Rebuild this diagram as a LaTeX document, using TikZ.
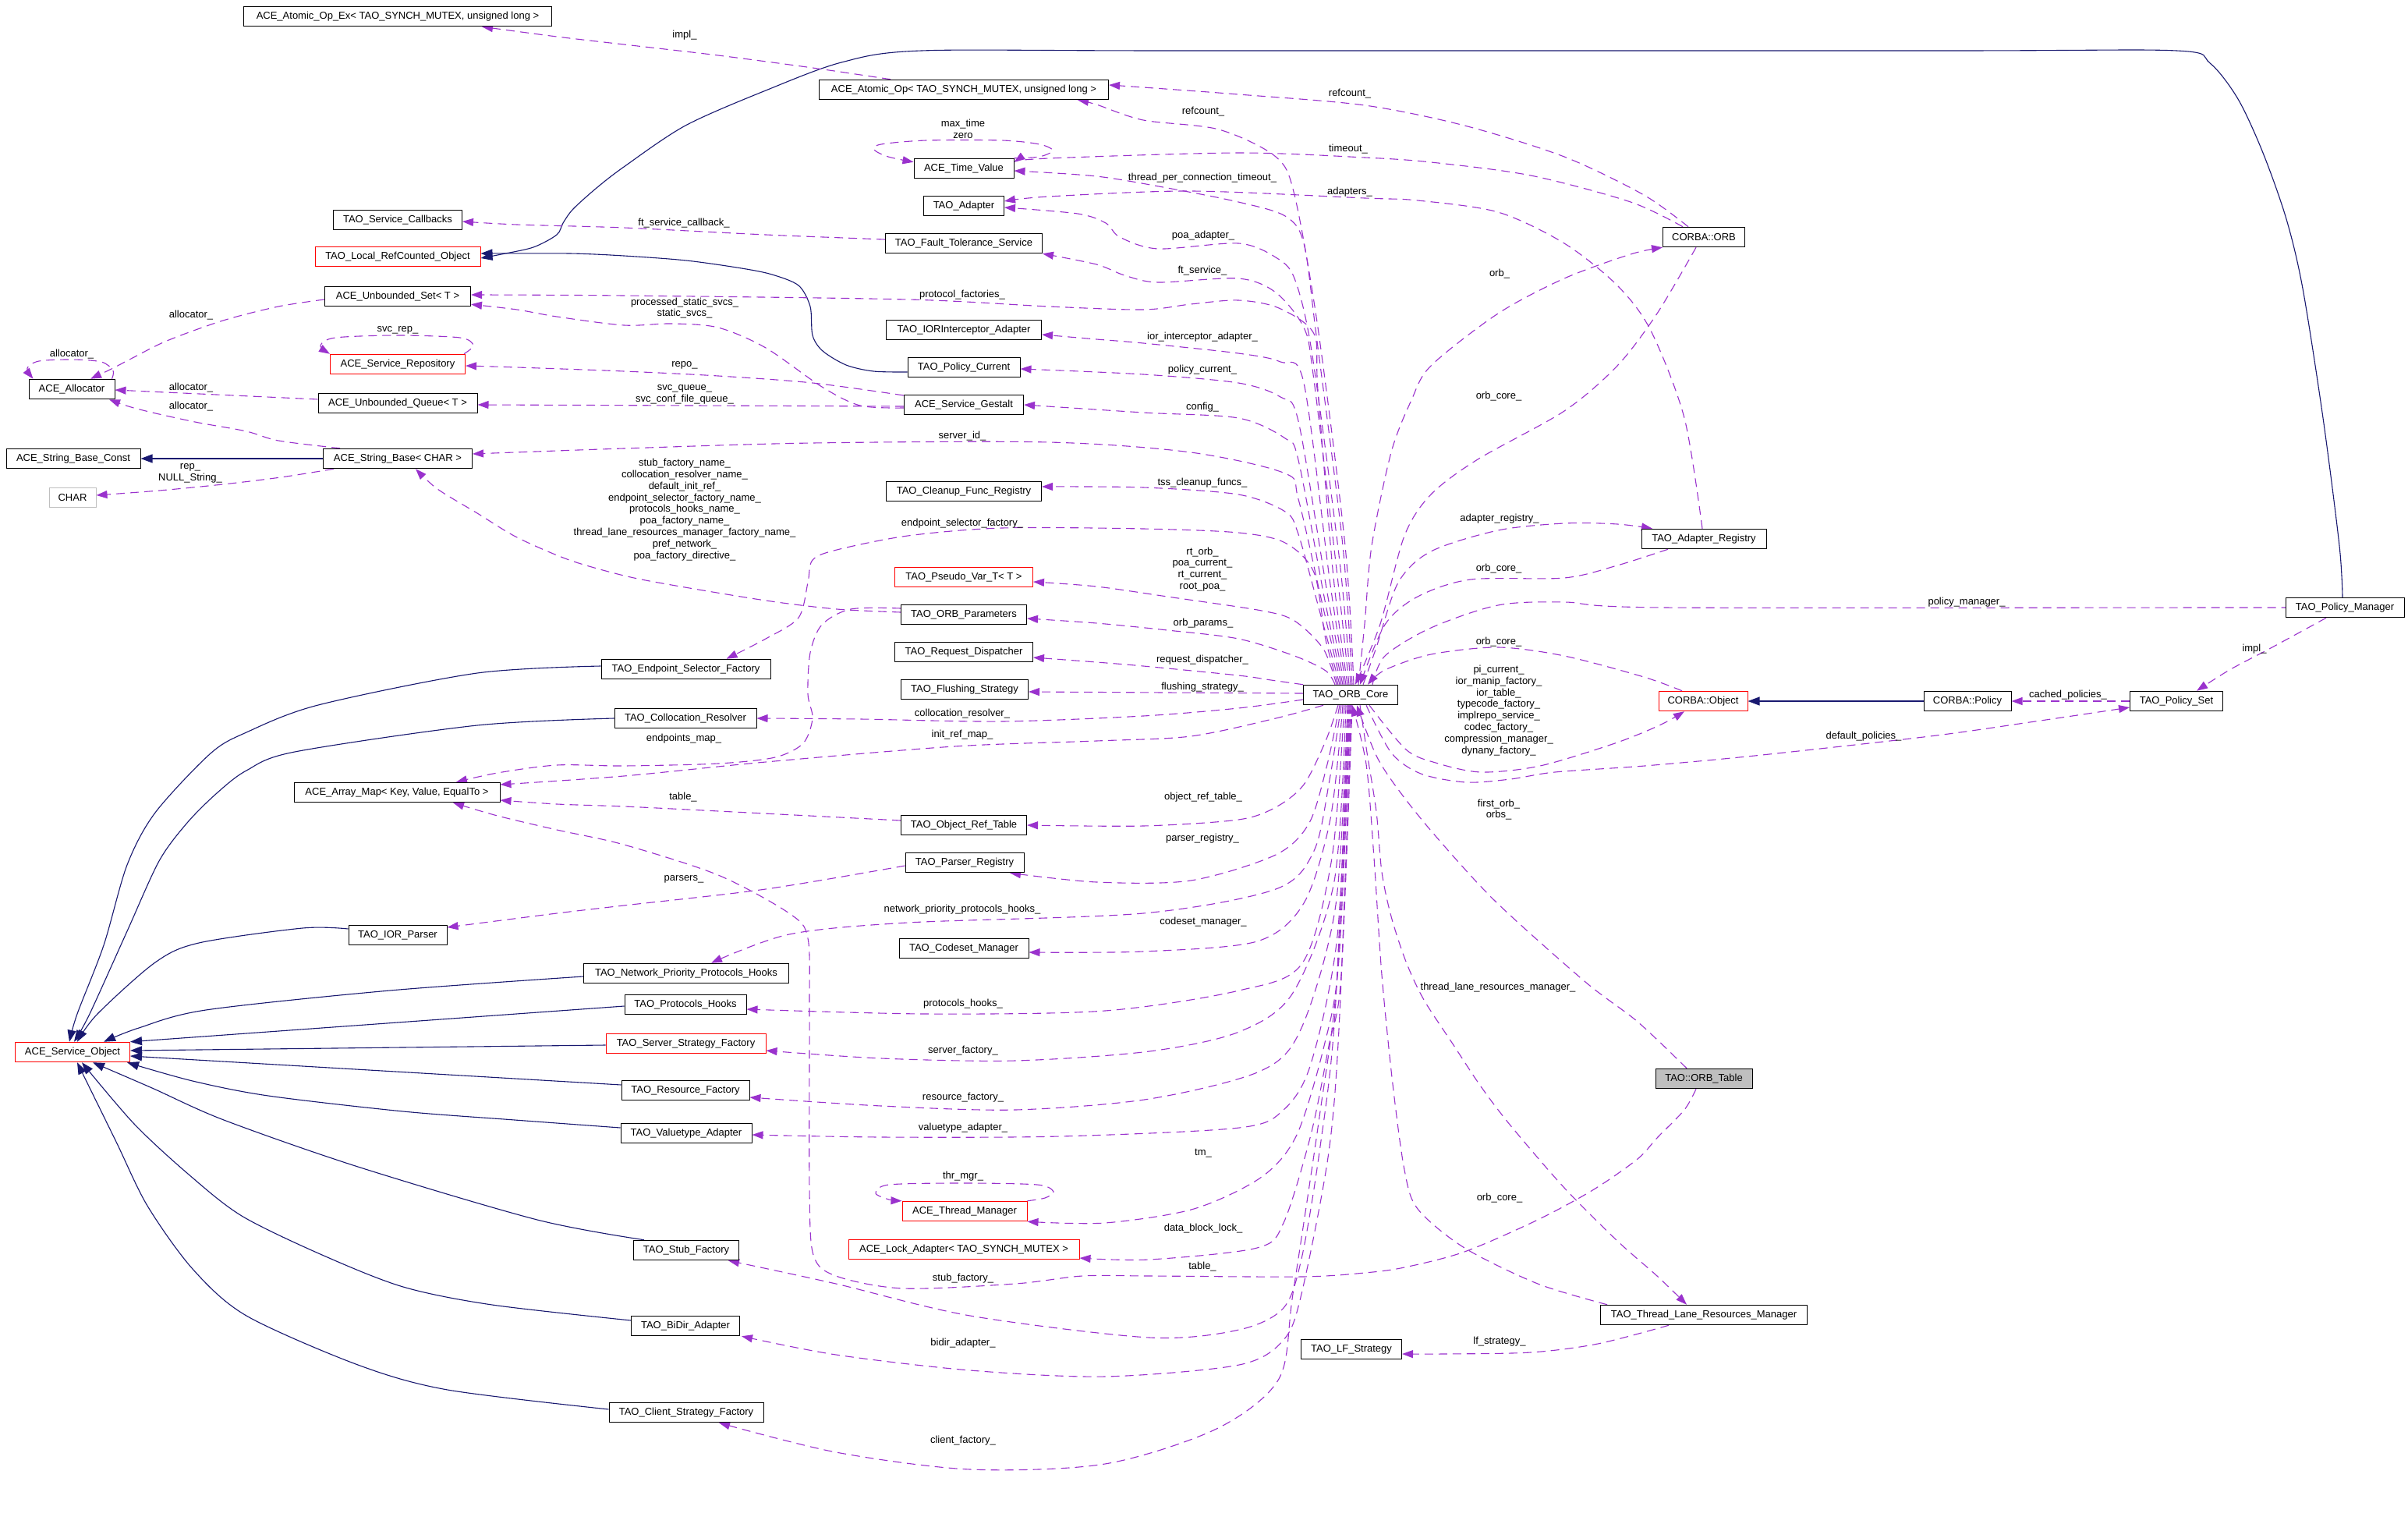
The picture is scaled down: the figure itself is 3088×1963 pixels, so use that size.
\documentclass[tikz,border=0pt]{standalone}
\usepackage{fontspec}
\setmainfont{Liberation Sans}
\usetikzlibrary{arrows.meta}
\definecolor{edgeP}{HTML}{9A32CD}
\definecolor{edgeB}{HTML}{191970}
\definecolor{grayB}{HTML}{BFBFBF}
\pgfdeclarelayer{bg}
\pgfsetlayers{bg,main}
\begin{document}
\begin{tikzpicture}[x=0.5pt,y=-0.5pt,
  box/.style={draw=black, fill=white, line width=0.5pt, minimum height=12.75pt, inner sep=0pt, font=\fontsize{6.5}{7.4}\selectfont},
  rbox/.style={box, draw=red},
  gbox/.style={box, draw=grayB},
  bw/.style={minimum width=#1*0.5pt},
  lbl/.style={inner sep=0pt, align=center, font=\fontsize{6.5}{7.4}\selectfont},
  uedge/.style={draw=edgeP, line width=0.55pt, dash pattern=on 5.5pt off 3.5pt, -{Triangle[length=7pt,width=5pt]}},
  iedge/.style={draw=edgeB, line width=0.55pt, -{Triangle[length=7.5pt,width=5.5pt]}}]
\useasboundingbox (0,0) rectangle (3088,1963);
% ---------------- nodes
\node[box,bw=395] (atomicex) at (510,21) {ACE\_Atomic\_Op\_Ex< TAO\_SYNCH\_MUTEX, unsigned long >};
\node[box,bw=371] (atomicop) at (1236,115) {ACE\_Atomic\_Op< TAO\_SYNCH\_MUTEX, unsigned long >};
\node[box,bw=128] (timevalue) at (1236,216) {ACE\_Time\_Value};
\node[box,bw=103] (adapter) at (1236,264) {TAO\_Adapter};
\node[box,bw=165] (svccallbacks) at (510,282) {TAO\_Service\_Callbacks};
\node[box,bw=201] (fts) at (1236,312) {TAO\_Fault\_Tolerance\_Service};
\node[rbox,bw=212] (localref) at (510,329) {TAO\_Local\_RefCounted\_Object};
\node[box,bw=187] (unbset) at (510,380) {ACE\_Unbounded\_Set< T >};
\node[box,bw=199] (iorint) at (1236,423) {TAO\_IORInterceptor\_Adapter};
\node[rbox,bw=173] (svcrepo) at (510,467) {ACE\_Service\_Repository};
\node[box,bw=144] (policycurrent) at (1236,471) {TAO\_Policy\_Current};
\node[box,bw=110] (allocator) at (92,499) {ACE\_Allocator};
\node[box,bw=204] (unbqueue) at (510,517) {ACE\_Unbounded\_Queue< T >};
\node[box,bw=153] (gestalt) at (1236,519) {ACE\_Service\_Gestalt};
\node[box,bw=172] (stringconst) at (94,588) {ACE\_String\_Base\_Const};
\node[box,bw=191] (stringbase) at (510,588) {ACE\_String\_Base< CHAR >};
\node[box,bw=199] (cleanup) at (1236,630) {TAO\_Cleanup\_Func\_Registry};
\node[gbox,bw=60] (charn) at (93,638) {CHAR};
\node[rbox,bw=177] (pseudovar) at (1236,740) {TAO\_Pseudo\_Var\_T< T >};
\node[box,bw=161] (orbparams) at (1236,788) {TAO\_ORB\_Parameters};
\node[box,bw=177] (reqdisp) at (1236,836) {TAO\_Request\_Dispatcher};
\node[box,bw=217] (endpointsel) at (879.5,858) {TAO\_Endpoint\_Selector\_Factory};
\node[box,bw=163] (flushing) at (1237,884) {TAO\_Flushing\_Strategy};
\node[box,bw=121] (orbcore) at (1732,891) {TAO\_ORB\_Core};
\node[box,bw=182] (colloc) at (879,921) {TAO\_Collocation\_Resolver};
\node[box,bw=264] (arraymap) at (509,1016) {ACE\_Array\_Map< Key, Value, EqualTo >};
\node[box,bw=161] (objreftable) at (1236,1058) {TAO\_Object\_Ref\_Table};
\node[box,bw=152] (parserreg) at (1237,1106) {TAO\_Parser\_Registry};
\node[box,bw=126] (iorparser) at (510,1199) {TAO\_IOR\_Parser};
\node[box,bw=166] (codeset) at (1236,1216) {TAO\_Codeset\_Manager};
\node[box,bw=263] (npph) at (880,1248) {TAO\_Network\_Priority\_Protocols\_Hooks};
\node[box,bw=156] (protohooks) at (879,1288) {TAO\_Protocols\_Hooks};
\node[rbox,bw=205] (serverstrat) at (879.5,1338) {TAO\_Server\_Strategy\_Factory};
\node[rbox,bw=147] (svcobject) at (93,1349) {ACE\_Service\_Object};
\node[box,bw=164] (resfactory) at (879,1398) {TAO\_Resource\_Factory};
\node[box,bw=168] (valuetype) at (880,1453) {TAO\_Valuetype\_Adapter};
\node[rbox,bw=160] (threadmgr) at (1237,1553) {ACE\_Thread\_Manager};
\node[rbox,bw=296] (lockadapter) at (1236,1602) {ACE\_Lock\_Adapter< TAO\_SYNCH\_MUTEX >};
\node[box,bw=135] (stubfactory) at (880,1603) {TAO\_Stub\_Factory};
\node[box,bw=139] (bidir) at (879,1700) {TAO\_BiDir\_Adapter};
\node[box,bw=129] (lfstrategy) at (1733,1730) {TAO\_LF\_Strategy};
\node[box,bw=198] (clientstrat) at (880,1811) {TAO\_Client\_Strategy\_Factory};
\node[box,bw=105] (corbaorb) at (2185,304) {CORBA::ORB};
\node[box,bw=160] (adapterreg) at (2185,691) {TAO\_Adapter\_Registry};
\node[box,bw=152] (policymgr) at (3007,779) {TAO\_Policy\_Manager};
\node[rbox,bw=114] (corbaobject) at (2184,899) {CORBA::Object};
\node[box,bw=112] (corbapolicy) at (2523,899) {CORBA::Policy};
\node[box,bw=119] (policyset) at (2791,899) {TAO\_Policy\_Set};
\node[box,fill=grayB,bw=124] (orbtable) at (2185,1383) {TAO::ORB\_Table};
\node[box,bw=265] (tlrm) at (2185,1686) {TAO\_Thread\_Lane\_Resources\_Manager};
% ---------------- edges
\begin{pgfonlayer}{bg}
\fill[white] (0,0) rectangle (3088,1963);
% inheritance
\draw[iedge] plot[smooth,tension=0.5] coordinates {([xshift=-1.5pt]policymgr.north) (3000,700) (2979,536) (2953,370) (2932,281) (2902,196) (2870,127) (2834,81) (2791,65) (2500,65) (1500,65) (1182,65) (1079,80) (982,116) (879,161) (800,214) (765,241) (735,268) (722,286) (714,301) (684,317) (643,326) ([yshift=-1pt]localref.east)};
\draw[iedge] plot[smooth,tension=0.5] coordinates {([yshift=-3pt]policycurrent.west) (1120,476) (1085,468) (1055,450) (1042,430) (1039,393) (1024,366) (990,352) (951,344) (880,334) (800,328) (730,325) ([yshift=2pt]localref.east)};
\draw[iedge] (corbapolicy) -- (corbaobject);
\draw[iedge] (stringbase) -- (stringconst);
\draw[iedge] plot[smooth,tension=0.5] coordinates {([yshift=2pt]endpointsel.west) (612,863) (408,904) (316,939) (270,966) (199,1042) (163,1109) (133,1212) (99,1300) ([xshift=-2pt]svcobject.north)};
\draw[iedge] plot[smooth,tension=0.5] coordinates {(colloc.west) (612,930) (378,964) (316,988) (278,1017) (240,1055) (204,1104) (163,1194) (115,1300) ([xshift=1pt]svcobject.north)};
\draw[iedge] plot[smooth,tension=0.5] coordinates {([yshift=4pt]iorparser.west) (388,1190) (255,1209) (199,1234) (125,1300) ([xshift=3pt]svcobject.north)};
\draw[iedge] plot[smooth,tension=0.5] coordinates {([yshift=-2pt]npph.west) (500,1270) (264,1295) (178,1318) ([xshift=20pt]svcobject.north)};
\draw[iedge] ([yshift=-1pt]protohooks.west) -- (svcobject.north east);
\draw[iedge] ([yshift=-1pt]serverstrat.west) -- ([yshift=1pt]svcobject.east);
\draw[iedge] ([yshift=3.5pt]resfactory.west) -- ([yshift=-2.5pt]svcobject.east);
\draw[iedge] plot[smooth,tension=0.5] coordinates {([yshift=3.5pt]valuetype.west) (660,1436) (517,1425) (344,1405) (247,1386) ([xshift=-2pt]svcobject.south east)};
\draw[iedge] plot[smooth,tension=0.5] coordinates {([xshift=-27pt]stubfactory.north) (689,1564) (459,1496) (287,1436) (195,1395) ([xshift=13pt]svcobject.south)};
\draw[iedge] plot[smooth,tension=0.5] coordinates {([yshift=3.5pt]bidir.west) (631,1673) (517,1650) (413,1609) (310,1559) (241,1505) (172,1441) ([xshift=6pt]svcobject.south)};
\draw[iedge] plot[smooth,tension=0.5] coordinates {([yshift=2pt]clientstrat.west) (574,1782) (459,1750) (316,1687) (247,1627) (189,1546) (149,1464) ([xshift=3pt]svcobject.south)};
% usage
\draw[uedge] plot[smooth,tension=0.5] coordinates {([xshift=-47pt]atomicop.north) (1042,87) (921,71) (800,57) (714,47) ([xshift=54pt]atomicex.south)};
\draw[uedge] plot[smooth,tension=0.5] coordinates {([xshift=-10pt]corbaorb.north) (2108,250) (2006,201) (1878,161) (1750,135) (1588,121) (1466,112) ([yshift=3pt]atomicop.east)};
\draw[uedge] plot[smooth,tension=0.5] coordinates {([xshift=2pt]orbcore.north) (1725,700) (1690,420) (1660,250) (1636,201) (1563,166) (1466,154) (1406,134) ([xshift=73pt]atomicop.south)};
\draw[uedge] plot[smooth,tension=0.5] coordinates {([xshift=-13.5pt]corbaorb.north) (2091,259) (1963,225) (1835,208) (1750,202) (1588,196) (1345,203) ([yshift=4pt]timevalue.east)};
\draw[uedge] plot[smooth,tension=0.5] coordinates {(timevalue.north east) (1333,201) (1350,193) (1333,185) (1285,180) (1188,180) (1130,185) (1121,192) (1139,201) ([yshift=-2.5pt]timevalue.north west)};
\draw[uedge] plot[smooth,tension=0.5] coordinates {([xshift=1pt]orbcore.north) (1722,700) (1688,430) (1672,312) (1648,277) (1588,259) (1497,241) (1406,226) ([yshift=-1.5pt]timevalue.east)};
\draw[uedge] plot[smooth,tension=0.5] coordinates {([xshift=-1pt]adapterreg.north) (2160,536) (2117,424) (2074,366) (2006,312) (1921,272) (1818,257) (1750,254) (1527,245) (1345,252) ([yshift=3pt]adapter.east)};
\draw[uedge] plot[smooth,tension=0.5] coordinates {(orbcore.north) (1718,720) (1682,450) (1660,357) (1636,330) (1588,312) (1485,319) (1436,304) (1418,286) (1382,274) ([yshift=-1pt]adapter.east)};
\draw[uedge] plot[smooth,tension=0.5] coordinates {([yshift=2.5pt]fts.west) (982,301) (800,292) (663,288) ([yshift=-1pt]svccallbacks.east)};
\draw[uedge] plot[smooth,tension=0.5] coordinates {([xshift=-1pt]orbcore.north) (1714,730) (1684,480) (1672,420) (1636,375) (1588,357) (1485,362) (1442,353) (1406,339) (fts.south east)};
\draw[uedge] plot[smooth,tension=0.5] coordinates {([xshift=-2pt]orbcore.north) (1710,740) (1690,500) (1685,428) (1640,395) (1588,385) (1527,390) (1466,397) (1345,393) (1164,384) (800,379) ([yshift=1pt]unbset.east)};
\draw[uedge] plot[smooth,tension=0.5] coordinates {([yshift=-2pt]gestalt.west) (1103,520) (1054,496) (982,446) (921,420) (861,415) (800,417) (714,406) (663,397) ([yshift=1.5pt]unbset.south east)};
\draw[uedge] plot[smooth,tension=0.5] coordinates {([xshift=-3pt]orbcore.north) (1706,750) (1672,491) (1642,464) (1588,453) (1466,440) (1406,435) ([yshift=-3pt]iorint.east)};
\draw[uedge] plot[smooth,tension=0.5] coordinates {([xshift=-4pt]orbcore.north) (1702,760) (1665,540) (1642,509) (1588,491) (1466,480) ([yshift=-1pt]policycurrent.east)};
\draw[uedge] plot[smooth,tension=0.5] coordinates {([xshift=-5pt]orbcore.north) (1699,770) (1665,590) (1648,562) (1588,536) (1466,529) (gestalt.east)};
\draw[uedge] plot[smooth,tension=0.5] coordinates {([yshift=6pt]gestalt.west) (1042,491) (921,482) (800,476) (663,471) ([yshift=-1pt]svcrepo.east)};
\draw[uedge] ([yshift=-1pt]gestalt.west) -- ([yshift=-1pt]unbqueue.east);
\draw[uedge] plot[smooth,tension=0.5] coordinates {([xshift=-1pt]svcrepo.north east) (607,443) (590,433) (510,430) (430,433) (411,443) (svcrepo.north west)};
\draw[uedge] plot[smooth,tension=0.5] coordinates {([yshift=-2pt]unbset.west) (357,393) (286,411) (214,437) (168,460) (143,473) ([xshift=12pt]allocator.north)};
\draw[uedge] plot[smooth,tension=0.5] coordinates {([xshift=-2pt]allocator.north east) (145,475) (130,464) (92,461) (50,463) (35,472) ([xshift=3pt]allocator.north west)};
\draw[uedge] ([yshift=2.5pt]unbqueue.west) -- ([yshift=-0.5pt]allocator.east);
\draw[uedge] plot[smooth,tension=0.5] coordinates {([xshift=-37pt]stringbase.north) (357,565) (316,553) (255,542) (204,531) (168,522) ([xshift=24pt]allocator.south)};
\draw[uedge] plot[smooth,tension=0.5] coordinates {([xshift=-41pt]stringbase.south) (360,612) (286,621) (204,629) ([yshift=1.5pt]charn.east)};
\draw[uedge] plot[smooth,tension=0.5] coordinates {([xshift=-6pt]orbcore.north) (1697,780) (1665,640) (1648,607) (1527,580) (1345,567) (1042,568) (800,575) ([yshift=3pt]stringbase.east)};
\draw[uedge] plot[smooth,tension=0.5] coordinates {([yshift=1.5pt]orbparams.west) (1073,781) (982,770) (861,750) (800,738) (730,718) (663,689) (612,658) (561,627) ([xshift=11.5pt]stringbase.south)};
\draw[uedge] plot[smooth,tension=0.5] coordinates {([xshift=-7pt]orbcore.north) (1694,790) (1665,685) (1648,656) (1588,634) (1466,625) ([yshift=3pt]cleanup.east)};
\draw[uedge] plot[smooth,tension=0.5] coordinates {([xshift=-8pt]orbcore.north) (1700,820) (1685,734) (1648,696) (1588,683) (1466,678) (1285,677) (1164,687) (1073,705) (1042,718) (1036,747) (1024,792) (982,819) ([xshift=26pt]endpointsel.north)};
\draw[uedge] plot[smooth,tension=0.5] coordinates {([xshift=-9pt]orbcore.north) (1697,832) (1660,796) (1618,783) (1497,765) (1406,752) ([yshift=-3pt]pseudovar.east)};
\draw[uedge] plot[smooth,tension=0.5] coordinates {([xshift=-10pt]orbcore.north) (1700,860) (1660,841) (1588,819) (1497,808) (1406,799) ([yshift=-2.5pt]orbparams.east)};
\draw[uedge] plot[smooth,tension=0.5] coordinates {(orbcore.north west) (1630,872) (1588,866) (1466,854) (1406,849) ([yshift=-3.5pt]reqdisp.east)};
\draw[uedge] ([yshift=1pt]orbcore.west) -- ([yshift=-1.5pt]flushing.east);
\draw[uedge] plot[smooth,tension=0.5] coordinates {([yshift=-3pt]orbcore.west) (1588,908) (1466,918) (1285,925) (1103,922) (colloc.east)};
\draw[uedge] plot[smooth,tension=0.5] coordinates {([xshift=-17.5pt]orbcore.south) (1636,921) (1527,944) (1406,950) (1224,957) (982,977) (800,995) ([yshift=5pt]arraymap.east)};
\draw[uedge] plot[smooth,tension=0.5] coordinates {([yshift=4pt]orbparams.west) (1091,781) (1054,801) (1039,837) (1036,890) (1042,921) (1030,953) (994,971) (921,979) (800,982) (714,981) (638,991) ([xshift=38pt]arraymap.north)};
\draw[uedge] plot[smooth,tension=0.5] coordinates {([yshift=3pt]objreftable.west) (921,1040) (800,1034) (714,1031) ([yshift=-5pt]arraymap.east)};
\draw[uedge] plot[smooth,tension=0.5] coordinates {([xshift=-5pt]orbtable.south) (2160,1423) (2125,1459) (2100,1486) (2044,1525) (1972,1564) (1878,1605) (1801,1625) (1750,1632) (1669,1637) (1474,1636) (1388,1636) (1302,1646) (1158,1652) (1072,1636) (1043,1609) (1038,1523) (1038,1300) (1036,1203) (1012,1171) (921,1122) (800,1083) (714,1064) (638,1046) ([xshift=36pt]arraymap.south)};
\draw[uedge] plot[smooth,tension=0.5] coordinates {([xshift=-8pt]orbcore.south) (1700,950) (1672,1006) (1636,1035) (1588,1051) (1466,1059) (objreftable.east)};
\draw[uedge] plot[smooth,tension=0.5] coordinates {([yshift=-2pt]parserreg.west) (982,1140) (800,1161) (714,1171) ([yshift=5pt]iorparser.east)};
\draw[uedge] plot[smooth,tension=0.5] coordinates {([xshift=-7pt]orbcore.south) (1702,980) (1679,1055) (1636,1096) (1527,1129) (1406,1131) ([xshift=29pt]parserreg.south)};
\draw[uedge] plot[smooth,tension=0.5] coordinates {([xshift=-6pt]orbcore.south) (1705,1000) (1685,1091) (1636,1140) (1466,1171) (1164,1183) (1012,1198) ([xshift=16pt]npph.north)};
\draw[uedge] plot[smooth,tension=0.5] coordinates {([xshift=-5pt]orbcore.south) (1706,1050) (1672,1158) (1612,1207) (1466,1220) ([yshift=-2.5pt]codeset.east)};
\draw[uedge] plot[smooth,tension=0.5] coordinates {([xshift=-4pt]orbcore.south) (1708,1100) (1670,1235) (1589,1270) (1417,1296) (1187,1300) ([yshift=-3pt]protohooks.east)};
\draw[uedge] plot[smooth,tension=0.5] coordinates {([xshift=-3pt]orbcore.south) (1711,1130) (1658,1273) (1589,1323) (1474,1348) (1302,1360) (1130,1357) ([yshift=-4.5pt]serverstrat.east)};
\draw[uedge] plot[smooth,tension=0.5] coordinates {([xshift=-2pt]orbcore.south) (1713,1160) (1669,1318) (1617,1373) (1474,1409) (1302,1423) (1130,1418) ([yshift=-4.5pt]resfactory.east)};
\draw[uedge] plot[smooth,tension=0.5] coordinates {([xshift=-1pt]orbcore.south) (1715,1200) (1681,1364) (1646,1423) (1589,1446) (1359,1457) (1130,1458) ([yshift=-1pt]valuetype.east)};
\draw[uedge] plot[smooth,tension=0.5] coordinates {(orbcore.south) (1717,1230) (1698,1341) (1663,1455) (1618,1509) (1531,1550) (1417,1568) (threadmgr.south east)};
\draw[uedge] plot[smooth,tension=0.5] coordinates {(threadmgr.north east) (1340,1536) (1351,1528) (1330,1519) (1234,1517) (1140,1519) (1123,1530) (1140,1538) (threadmgr.north west)};
\draw[uedge] plot[smooth,tension=0.5] coordinates {([xshift=1pt]orbcore.south) (1720,1250) (1704,1341) (1681,1455) (1646,1568) (1612,1600) (1474,1615) ([yshift=-5.5pt]lockadapter.east)};
\draw[uedge] plot[smooth,tension=0.5] coordinates {([xshift=-1.5pt]orbcore.south) (1712,1300) (1692,1477) (1669,1614) (1646,1677) (1589,1705) (1474,1715) (1244,1687) (1072,1646) ([xshift=27pt]stubfactory.south)};
\draw[uedge] plot[smooth,tension=0.5] coordinates {([xshift=0.5pt]orbcore.south) (1718,1300) (1704,1477) (1669,1659) (1646,1718) (1589,1750) (1417,1765) (1244,1757) (1072,1737) ([xshift=36pt]bidir.south)};
\draw[uedge] plot[smooth,tension=0.5] coordinates {([xshift=-0.5pt]orbcore.south) (1715,1250) (1692,1432) (1658,1659) (1640,1768) (1560,1832) (1417,1877) (1244,1884) (1072,1862) ([xshift=21pt]clientstrat.south)};
% right side
\draw[uedge] plot[smooth,tension=0.5] coordinates {([xshift=5pt]orbcore.north) (1750,800) (1759,700) (1784,580) (1810,513) (1835,469) (1921,402) (2006,357) (2091,326) (corbaorb.south west)};
\draw[uedge] plot[smooth,tension=0.5] coordinates {([xshift=-5pt]corbaorb.south) (2125,402) (2074,469) (2006,527) (1895,589) (1835,634) (1801,687) (1770,800) ([xshift=3pt]orbcore.north)};
\draw[uedge] plot[smooth,tension=0.5] coordinates {([xshift=8pt]orbcore.north) (1765,830) (1793,747) (1835,707) (1921,680) (2006,671) (2074,672) ([xshift=-33pt]adapterreg.north)};
\draw[uedge] plot[smooth,tension=0.5] coordinates {([xshift=-23pt]adapterreg.south) (2074,725) (2006,741) (1886,743) (1818,765) (1776,801) ([xshift=6pt]orbcore.north)};
\draw[uedge] plot[smooth,tension=0.5] coordinates {([xshift=14pt]orbcore.north) (1776,841) (1835,805) (1921,776) (2006,772) (2134,779) (2859,779) (policymgr.west)};
\draw[uedge] plot[smooth,tension=0.5] coordinates {([xshift=-12pt]policymgr.south) (2910,832) (2859,859) ([xshift=13pt]policyset.north)};
\draw[uedge] (policyset) -- (corbapolicy);
\draw[uedge] plot[smooth,tension=0.5] coordinates {([xshift=10pt]orbcore.south) (1784,965) (1822,992) (1880,1003) (1937,999) (1994,990) (2109,982) (2250,969) (2475,944) (2603,926) ([yshift=-4pt]policyset.west)};
\draw[uedge] plot[smooth,tension=0.5] coordinates {([xshift=-13.5pt]corbaobject.north) (2108,868) (2006,841) (1921,830) (1835,839) (1776,859) ([xshift=11pt]orbcore.north)};
\draw[uedge] plot[smooth,tension=0.5] coordinates {([xshift=12pt]orbcore.south) (1803,961) (1841,978) (1899,990) (1975,982) (2071,953) (2128,930) ([xshift=-12pt]corbaobject.south)};
\draw[uedge] plot[smooth,tension=0.5] coordinates {([xshift=-11pt]orbtable.north) (2100,1310) (2033,1259) (1918,1156) (1841,1072) (1795,1015) (1765,969) ([xshift=4pt]orbcore.south)};
\draw[uedge] plot[smooth,tension=0.5] coordinates {([xshift=6pt]orbcore.south) (1753,965) (1765,1041) (1772,1118) (1784,1175) (1803,1233) (1826,1282) (1864,1340) (1899,1393) (1937,1443) (2006,1523) (2074,1591) (2125,1636) ([xshift=-11pt]tlrm.north)};
\draw[uedge] plot[smooth,tension=0.5] coordinates {([xshift=-62pt]tlrm.north) (1972,1646) (1878,1600) (1818,1550) (1801,1500) (1786,1390) (1772,1250) (1762,1100) (1752,980) ([xshift=1pt]orbcore.south)};
\draw[uedge] plot[smooth,tension=0.5] coordinates {([xshift=-22.5pt]tlrm.south) (2049,1723) (1963,1734) (1850,1736) ([yshift=-3pt]lfstrategy.east)};
\end{pgfonlayer}
% ---------------- labels
\node[lbl] (l1) at (878,45) {impl\_};
\node[lbl] (l2) at (1543,143) {refcount\_};
\node[lbl] (l3) at (1731,120) {refcount\_};
\node[lbl] (l4) at (1235,165) {max\_time\\zero};
\node[lbl] (l5) at (1729,191) {timeout\_};
\node[lbl] (l6) at (1542,228) {thread\_per\_connection\_timeout\_};
\node[lbl] (l7) at (1731,246) {adapters\_};
\node[lbl] (l8) at (1543,302) {poa\_adapter\_};
\node[lbl] (l9) at (877,286) {ft\_service\_callback\_};
\node[lbl] (l10) at (1542,347) {ft\_service\_};
\node[lbl] (l11) at (1234,378) {protocol\_factories\_};
\node[lbl] (l12) at (878,395) {processed\_static\_svcs\_\\static\_svcs\_};
\node[lbl] (l13) at (1542,432) {ior\_interceptor\_adapter\_};
\node[lbl] (l14) at (878,468) {repo\_};
\node[lbl] (l15) at (1542,474) {policy\_current\_};
\node[lbl] (l16) at (878,506) {svc\_queue\_\\svc\_conf\_file\_queue\_};
\node[lbl] (l17) at (1542,522) {config\_};
\node[lbl] (l18) at (1234,559) {server\_id\_};
\node[lbl] (l19) at (245,404) {allocator\_};
\node[lbl] (l20) at (92,454) {allocator\_};
\node[lbl] (l21) at (510,423) {svc\_rep\_};
\node[lbl] (l22) at (245,497) {allocator\_};
\node[lbl] (l23) at (245,521) {allocator\_};
\node[lbl] (l24) at (244,607) {rep\_\\NULL\_String\_};
\node[lbl] (l25) at (878,653.5) {stub\_factory\_name\_\\collocation\_resolver\_name\_\\default\_init\_ref\_\\endpoint\_selector\_factory\_name\_\\protocols\_hooks\_name\_\\poa\_factory\_name\_\\thread\_lane\_resources\_manager\_factory\_name\_\\pref\_network\_\\poa\_factory\_directive\_};
\node[lbl] (l26) at (1542,619) {tss\_cleanup\_funcs\_};
\node[lbl] (l27) at (1234,671) {endpoint\_selector\_factory\_};
\node[lbl] (l28) at (1542,730) {rt\_orb\_\\poa\_current\_\\rt\_current\_\\root\_poa\_};
\node[lbl] (l29) at (1543,799) {orb\_params\_};
\node[lbl] (l30) at (1542,846) {request\_dispatcher\_};
\node[lbl] (l31) at (1542,881) {flushing\_strategy\_};
\node[lbl] (l32) at (1234,915) {collocation\_resolver\_};
\node[lbl] (l33) at (877,947) {endpoints\_map\_};
\node[lbl] (l34) at (1234,942) {init\_ref\_map\_};
\node[lbl] (l35) at (876,1022) {table\_};
\node[lbl] (l36) at (1543,1022) {object\_ref\_table\_};
\node[lbl] (l37) at (1542,1075) {parser\_registry\_};
\node[lbl] (l38) at (877,1127) {parsers\_};
\node[lbl] (l39) at (1234,1166) {network\_priority\_protocols\_hooks\_};
\node[lbl] (l40) at (1543,1182) {codeset\_manager\_};
\node[lbl] (l41) at (1235,1287) {protocols\_hooks\_};
\node[lbl] (l42) at (1235,1347) {server\_factory\_};
\node[lbl] (l43) at (1235,1407) {resource\_factory\_};
\node[lbl] (l44) at (1235,1446) {valuetype\_adapter\_};
\node[lbl] (l45) at (1543,1479) {tm\_};
\node[lbl] (l46) at (1235,1508) {thr\_mgr\_};
\node[lbl] (l47) at (1543,1575) {data\_block\_lock\_};
\node[lbl] (l48) at (1542,1624) {table\_};
\node[lbl] (l49) at (1235,1639) {stub\_factory\_};
\node[lbl] (l50) at (1235,1722) {bidir\_adapter\_};
\node[lbl] (l51) at (1235,1847) {client\_factory\_};
\node[lbl] (l52) at (1923,351) {orb\_};
\node[lbl] (l53) at (1922,508) {orb\_core\_};
\node[lbl] (l54) at (1923,665) {adapter\_registry\_};
\node[lbl] (l55) at (1922,729) {orb\_core\_};
\node[lbl] (l56) at (2522,772) {policy\_manager\_};
\node[lbl] (l57) at (1922,823) {orb\_core\_};
\node[lbl] (l58) at (1922,911) {pi\_current\_\\ior\_manip\_factory\_\\ior\_table\_\\typecode\_factory\_\\implrepo\_service\_\\codec\_factory\_\\compression\_manager\_\\dynany\_factory\_};
\node[lbl] (l59) at (2891,832) {impl\_};
\node[lbl] (l60) at (2652,891) {cached\_policies\_};
\node[lbl] (l61) at (2390,944) {default\_policies\_};
\node[lbl] (l62) at (1922,1038) {first\_orb\_\\orbs\_};
\node[lbl] (l63) at (1921,1266) {thread\_lane\_resources\_manager\_};
\node[lbl] (l64) at (1923,1536) {orb\_core\_};
\node[lbl] (l65) at (1923,1720) {lf\_strategy\_};
\end{tikzpicture}
\end{document}
